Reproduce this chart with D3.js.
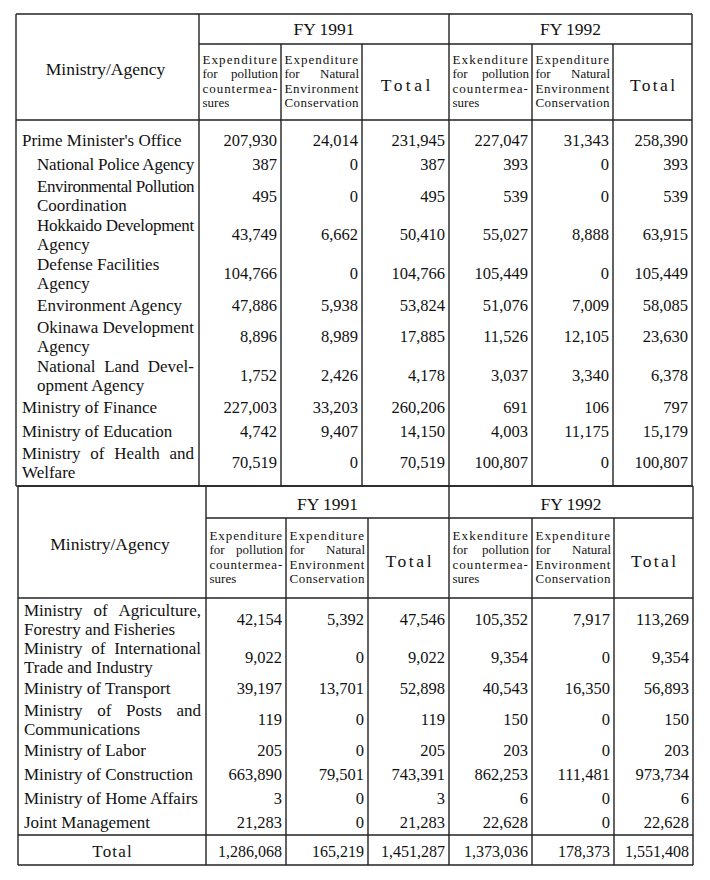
<!DOCTYPE html>
<html><head><meta charset="utf-8">
<script src="https://cdn.jsdelivr.net/npm/d3@7"></script>
<style>
body{margin:0;background:#fff}
text{font-family:"Liberation Serif","Times New Roman",serif;fill:#111}
.lab{font-size:17px}
.num{font-size:16.5px}
.tnum{font-size:16px}
.hd{font-size:17.5px}
.sub{font-size:13px}
line{stroke:#222;stroke-width:1.4}
</style>
</head><body>
<svg id="c" width="710" height="880"></svg>
<script>
// ---------------- DATA ----------------
const ministries = [
  "Prime Minister's Office",
  "National Police Agency",
  "Environmental Pollution\nCoordination",
  "Hokkaido Development\nAgency",
  "Defense Facilities\nAgency",
  "Environment Agency",
  "Okinawa Development\nAgency",
  "National Land Devel-\nopment Agency",
  "Ministry of Finance",
  "Ministry of Education",
  "Ministry of Health and\nWelfare",
  "Ministry of Agriculture,\nForestry and Fisheries",
  "Ministry of International\nTrade and Industry",
  "Ministry of Transport",
  "Ministry of Posts and\nCommunications",
  "Ministry of Labor",
  "Ministry of Construction",
  "Ministry of Home Affairs",
  "Joint Management"
];
const level = [0,1,1,1,1,1,1,1,0,0,0,0,0,0,0,0,0,0,0];
const pollution1991 = [207930,387,495,43749,104766,47886,8896,1752,227003,4742,70519,42154,9022,39197,119,205,663890,3,21283];
const nature1991    = [24014,0,0,6662,0,5938,8989,2426,33203,9407,0,5392,0,13701,0,0,79501,0,0];
const total1991     = [231945,387,495,50410,104766,53824,17885,4178,260206,14150,70519,47546,9022,52898,119,205,743391,3,21283];
const pollution1992 = [227047,393,539,55027,105449,51076,11526,3037,691,4003,100807,105352,9354,40543,150,203,862253,6,22628];
const nature1992    = [31343,0,0,8888,0,7009,12105,3340,106,11175,0,7917,0,16350,0,0,111481,0,0];
const total1992     = [258390,393,539,63915,105449,58085,23630,6378,797,15179,100807,113269,9354,56893,150,203,973734,6,22628];
const grandTotalLabel = "Total";
const grandTotal = [1286068,165219,1451287,1373036,178373,1551408];
const stubHead = "Ministry/Agency";
const fiscalYears = ["FY 1991","FY 1992"];
const colHeads1991 = [["Expenditure","for pollution","countermea-","sures"],["Expenditure","for Natural","Environment","Conservation"],["Total"]];
const colHeads1992 = [["Exkenditure","for pollution","countermea-","sures"],["Expenditure","for Natural","Environment","Conservation"],["Total"]];
const series = [pollution1991, nature1991, total1991, pollution1992, nature1992, total1992];

// ---------------- LAYOUT ----------------
const layout = [
  {from:0, to:11, edges:[16,199,281,362,449,532,613,692], top:14, fy:44, head:120, bodyTop:128, bodyBottom:482, bottom:486, total:false, fyDy:0},
  {from:11, to:19, edges:[18,206,286,368,449,532,614,693], top:486, fy:518, head:598, bodyTop:600, bodyBottom:834, totalLine:835, bottom:865, total:true, fyDy:2}
];
const LABEL_LINE = 19, SUB_LINE = 14.5;
const fmt = d3.format(",");
const svg = d3.select("#c");

// adds one line (as tspans) to a text element; fits/justifies within [x0,x1]
function addLine(textEl, str, x0, x1, y, justify){
  const avail = x1 - x0;
  const ts = textEl.append("tspan").attr("x", x0).attr("y", y).text(str);
  const natural = ts.node().getComputedTextLength();
  const words = str.split(" ");
  if (natural > avail || (justify && words.length === 1 && natural > avail*0.8)) {
    ts.attr("letter-spacing", (avail - natural) / str.length);
    return;
  }
  if (!justify) return;
  ts.remove();
  const nodes = words.map(w => textEl.append("tspan").attr("y", y).text(w));
  const widths = nodes.map(n => n.node().getComputedTextLength());
  const gap = (avail - d3.sum(widths)) / (words.length - 1);
  let x = x0;
  nodes.forEach((n, i) => { n.attr("x", x); x += widths[i] + gap; });
}

layout.forEach(T => {
  const g = svg.append("g");
  const e = T.edges;
  const L = e[0], R = e[7];
  const bot = T.bottom;
  const hl = (y, x0, x1) => g.append("line").attr("x1", x0).attr("x2", x1).attr("y1", y).attr("y2", y);
  const vl = (x, y0, y1) => g.append("line").attr("x1", x).attr("x2", x).attr("y1", y0).attr("y2", y1);
  hl(T.top, L, R); hl(T.fy, e[1], R); hl(T.head, L, R); hl(bot, L, R);
  if (T.total) hl(T.totalLine, L, R);
  [0,1,4,7].forEach(i => vl(e[i], T.top, bot));
  [2,3,5,6].forEach(i => vl(e[i], T.fy, bot));

  // headers
  g.append("text").attr("class", "hd").attr("text-anchor", "middle")
    .attr("x", (e[0]+e[1])/2 - 2).attr("y", (T.top+T.head)/2 + 1.5).attr("dy", "0.35em").text(stubHead);
  fiscalYears.forEach((fy, k) => {
    g.append("text").attr("class", "hd").attr("text-anchor", "middle")
      .attr("x", (e[1+3*k]+e[4+3*k])/2).attr("y", (T.top+T.fy)/2 + T.fyDy).attr("dy", "0.35em").text(fy);
    const heads = k === 0 ? colHeads1991 : colHeads1992;
    heads.forEach((lines, j) => {
      const x0 = e[1+3*k+j], x1 = e[2+3*k+j];
      const cy = (T.fy + T.head)/2;
      if (lines.length === 1) {
        const w = (x1 - x0) * 0.57;
        g.append("text").attr("class", "hd").attr("text-anchor", "middle")
          .attr("x", (x0+x1)/2).attr("y", cy + 3).attr("dy", "0.35em")
          .attr("textLength", w).attr("lengthAdjust", "spacing").text(lines[0]);
      } else {
        const t = g.append("text").attr("class", "sub");
        lines.forEach((ln, i) => {
          const y = cy - 1 + (i - (lines.length-1)/2) * SUB_LINE + 4.5;
          addLine(t, ln, x0 + 3.5, x1 - 3, y, i < lines.length - 1 || ln.length > 8);
        });
      }
    });
  });

  // body rows
  const idx = d3.range(T.from, T.to);
  const nLines = idx.map(i => ministries[i].split("\n").length);
  const units = nLines.map(n => n === 1 ? 1 : 1.6);
  const cum = [0]; units.forEach(u => cum.push(cum[cum.length-1] + u));
  const y = d3.scaleLinear().domain([0, cum[cum.length-1]]).range([T.bodyTop, T.bodyBottom]);
  idx.forEach((ri, k) => {
    const cy = y(cum[k] + units[k]/2);
    const lines = ministries[ri].split("\n");
    const x0 = L + (level[ri] ? 21 : 6), x1 = e[1] - 5;
    const t = g.append("text").attr("class", "lab");
    lines.forEach((ln, i) => {
      const yy = cy + (i - (lines.length-1)/2) * LABEL_LINE + 6;
      let justify = false;
      if (i < lines.length - 1) {
        const p = g.append("text").attr("class", "lab").text(ln);
        const w = p.node().getComputedTextLength(); p.remove();
        justify = w > (x1 - x0) * 0.8;
      }
      addLine(t, ln, x0, x1, yy, justify);
    });
    series.forEach((s, c) => {
      g.append("text").attr("class", "num").attr("text-anchor", "end")
        .attr("x", e[c+2] - 4).attr("y", cy).attr("dy", "0.35em").text(fmt(s[ri]));
    });
  });

  if (T.total) {
    const cy = (T.totalLine + bot)/2 + 1;
    g.append("text").attr("class", "lab").attr("text-anchor", "middle")
      .attr("x", (e[0]+e[1])/2 + 0.6).attr("y", cy).attr("dy", "0.35em")
      .attr("letter-spacing", 1.2).text(grandTotalLabel);
    grandTotal.forEach((v, c) => {
      g.append("text").attr("class", "tnum").attr("text-anchor", "end")
        .attr("x", e[c+2] - 4).attr("y", cy).attr("dy", "0.35em").text(fmt(v));
    });
  }
});
</script>
</body></html>
